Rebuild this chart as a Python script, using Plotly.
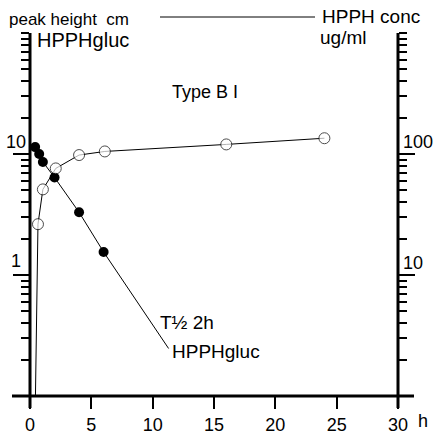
import plotly.graph_objects as go

# ---- data ----
gluc_t = [0.42, 0.75, 1.05, 2, 4, 6]
gluc_peak_cm = [11.4, 10.0, 8.6, 6.4, 3.3, 1.55]
half_life_h = 2.0
gluc_line_end_t = 11.3

conc_t = [0.4, 0.65, 1.05, 2.1, 4, 6.1, 16, 24]
conc_ugml = [0.5, 26.3, 51, 76, 98, 105, 120, 135]

x_ticks = [0, 5, 10, 15, 20, 25, 30]
x_ticktext = ["0", "5", "10", "15", "20", "25", "30"]
left_major = [1, 10]
left_minor = [0.2, 0.3, 0.4, 0.5, 0.6, 0.7, 0.8, 0.9,
              2, 3, 4, 5, 6, 7, 8, 9,
              20, 30, 40, 50, 60, 70, 80, 90, 100]
right_major = [10, 100]
right_minor = [2, 3, 4, 5, 6, 7, 8, 9,
               20, 30, 40, 50, 60, 70, 80, 90,
               200, 300, 400, 500, 600, 700, 800, 900, 1000]

# extrapolated elimination line (half-life 2 h) to the label
ext_val = gluc_peak_cm[-1] * 2 ** (-(gluc_line_end_t - gluc_t[-1]) / half_life_h)
line_t = gluc_t + [gluc_line_end_t]
line_v = gluc_peak_cm + [ext_val]

W, H = 437, 438
L, R, T, B = 30, 39, 33, 42
PW, PH = W - L - R, H - T - B


def px(x):
    return (x - L) / PW


def py(y):
    return (H - B - y) / PH


FONT = "Liberation Sans, Arial, sans-serif"

fig = go.Figure()

# HPPHgluc line (filled)
fig.add_trace(go.Scatter(x=line_t, y=line_v, mode="lines",
                         line=dict(color="black", width=1), yaxis="y",
                         showlegend=False, hoverinfo="skip"))
fig.add_trace(go.Scatter(x=gluc_t, y=gluc_peak_cm, mode="markers",
                         marker=dict(color="black", size=10, symbol="circle"),
                         yaxis="y", showlegend=False))

# HPPH conc (open)
sizes = [0] + [11] * (len(conc_t) - 1)
fig.add_trace(go.Scatter(x=conc_t, y=conc_ugml, mode="lines+markers",
                         line=dict(color="black", width=1),
                         marker=dict(color="white", size=sizes, symbol="circle",
                                     line=dict(color="black", width=1)),
                         yaxis="y2", showlegend=False))

fig.update_layout(
    width=W, height=H,
    margin=dict(l=L, r=R, t=T, b=B, autoexpand=False),
    paper_bgcolor="white", plot_bgcolor="white",
    font=dict(family=FONT, size=17, color="black"),
    xaxis=dict(range=[0, 30], tickvals=x_ticks, ticktext=x_ticktext,
               ticks="outside", ticklen=12, tickwidth=2, tickcolor="black",
               ticklabelstandoff=0, automargin=False,
               showgrid=False, zeroline=False, showline=False,
               tickfont=dict(size=18, family=FONT)),
    yaxis=dict(type="log", range=[-1, 2], tickvals=left_major,
               showticklabels=False, ticks="outside", ticklen=16, tickwidth=2,
               tickcolor="black", showgrid=False, zeroline=False, showline=False,
               automargin=False,
               minor=dict(tickvals=left_minor, ticks="outside", ticklen=8,
                          tickwidth=2, tickcolor="black", showgrid=False)),
    yaxis2=dict(type="log", range=[0, 3], overlaying="y", side="right",
                tickvals=right_major, showticklabels=False, ticks="outside",
                ticklen=16, tickwidth=2, tickcolor="black", showgrid=False,
                zeroline=False, showline=False, automargin=False,
                minor=dict(tickvals=right_minor, ticks="outside", ticklen=8,
                           tickwidth=2, tickcolor="black", showgrid=False)),
)

shapes = [
    # bottom axis (extends past both sides)
    dict(type="line", xref="paper", yref="paper", x0=px(12), x1=px(414),
         y0=0, y1=0, line=dict(color="black", width=3)),
    # left axis
    dict(type="line", xref="paper", yref="paper", x0=0, x1=0,
         y0=py(408), y1=1, line=dict(color="black", width=3)),
    # right axis
    dict(type="line", xref="paper", yref="paper", x0=1, x1=1,
         y0=py(408), y1=1, line=dict(color="black", width=3)),
    # header connector line
    dict(type="line", xref="paper", yref="paper", x0=px(160), x1=px(315),
         y0=py(17), y1=py(17), line=dict(color="black", width=1)),
]
fig.update_layout(shapes=shapes)


def txt(s, x, y, size=17, anchor="left"):
    return dict(text=s, xref="paper", yref="paper", x=px(x), y=py(y),
                xanchor=anchor, yanchor="middle", showarrow=False,
                font=dict(size=size, family=FONT, color="black"))


annotations = [
    txt("peak height  cm", 7, 20, size=17),
    txt("HPPH conc", 320, 16, size=19),
    txt("ug/ml", 318, 37, size=19),
    txt("HPPHgluc", 35, 40, size=20),
    txt("Type B I", 170, 92, size=18),
    txt("T½ 2h", 158, 322, size=19),
    txt("HPPHgluc", 170, 351, size=19),
    txt("h", 416, 421, size=18),
]
# axis tick labels placed above their ticks
annotations.append(dict(text="10", xref="paper", yref="y", x=px(28), y=1,
                        xanchor="right", yanchor="bottom", showarrow=False,
                        font=dict(size=18, family=FONT)))
annotations.append(dict(text="1", xref="paper", yref="y", x=px(23), y=0,
                        xanchor="right", yanchor="bottom", yshift=2,
                        showarrow=False, font=dict(size=18, family=FONT)))
annotations.append(dict(text="100", xref="paper", yref="y2", x=px(401), y=2,
                        xanchor="left", yanchor="bottom", showarrow=False,
                        font=dict(size=18, family=FONT)))
annotations.append(dict(text="10", xref="paper", yref="y2", x=px(401), y=1,
                        xanchor="left", yanchor="bottom", showarrow=False,
                        font=dict(size=18, family=FONT)))
fig.update_layout(annotations=annotations)

fig.write_html("out.html")
